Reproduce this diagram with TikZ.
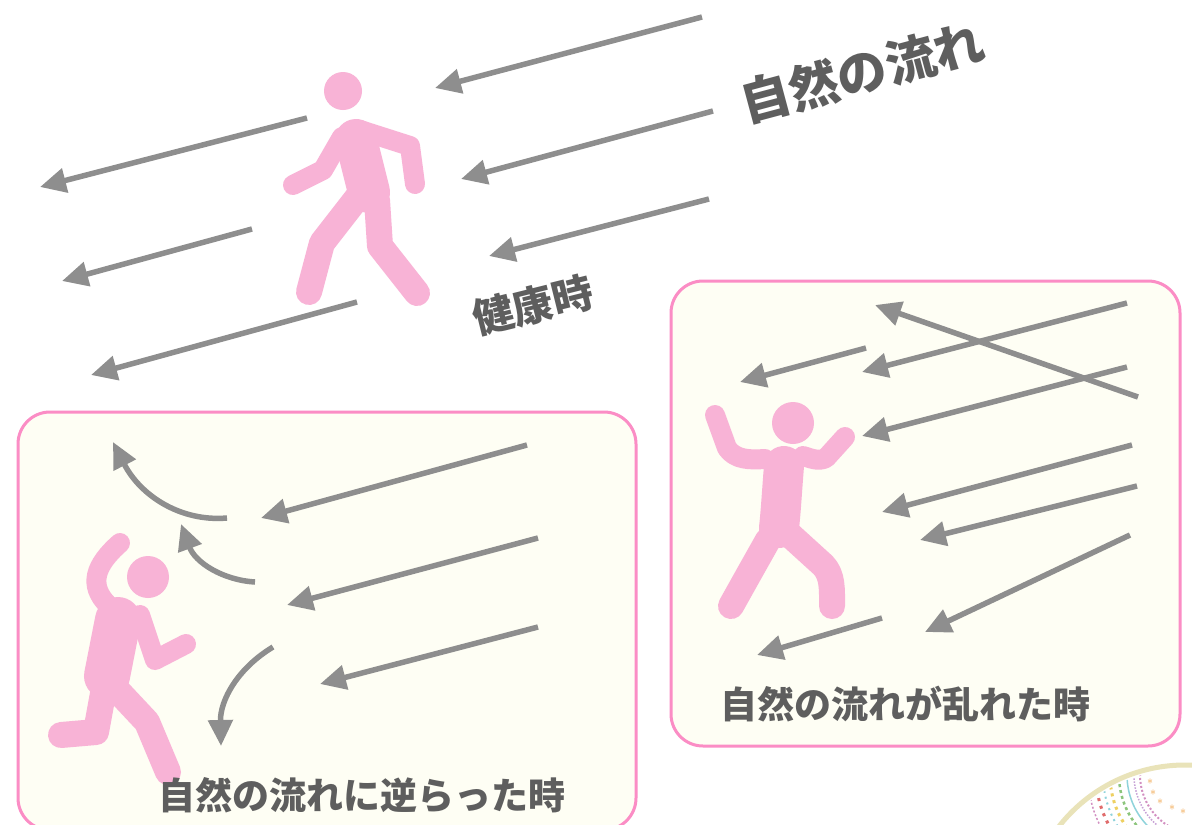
\documentclass[tikz,border=0pt]{standalone}
\usepackage{fontspec}
\newfontfamily\jp{Noto Sans CJK JP}
\usetikzlibrary{arrows.meta}
\definecolor{flowgray}{HTML}{8E8E8E}
\definecolor{figpink}{HTML}{F8B3D6}
\definecolor{framepink}{HTML}{FB8DC5}
\definecolor{paneltint}{HTML}{FEFEF4}
\definecolor{labelgray}{HTML}{5E5E5E}
\definecolor{ringbeige}{HTML}{E9E3B9}
\definecolor{o1}{HTML}{D28FC1}
\definecolor{o2}{HTML}{8FD3DB}
\definecolor{o3}{HTML}{8CC57C}
\definecolor{o4}{HTML}{EED061}
\definecolor{o5}{HTML}{E06B6B}
\definecolor{o6}{HTML}{C7A1D6}
\definecolor{o7}{HTML}{EDD2B0}
\definecolor{o8}{HTML}{F0A040}
\tikzset{
  flow/.style={draw=flowgray, line width=5.5pt,
    -{Triangle[length=26pt,width=24pt]}},
  panel/.style={draw=framepink, line width=3pt, fill=paneltint, rounded corners=32pt},
  limb/.style={draw=figpink, line width=20pt, line cap=round, line join=round},
  leg/.style={draw=figpink, line width=26pt, line cap=round, line join=round},
  trunk/.style={draw=figpink, line width=40pt, line cap=round, line join=round},
  head/.style={fill=figpink},
  label/.style={text=labelgray, font=\jp\bfseries\fontsize{37}{40}\selectfont, inner sep=0pt},
}
\begin{document}
\begin{tikzpicture}[x=1pt, y=-1pt]
\useasboundingbox (0,0) rectangle (1192,825);
\fill[white] (0,0) rectangle (1192,825);

% ---------- healthy: the natural flow ----------
\coordinate (h1s) at (702,17);  \coordinate (h1e) at (435,88);
\coordinate (h2s) at (307,118); \coordinate (h2e) at (40,187);
\coordinate (h3s) at (713,111); \coordinate (h3e) at (461,179);
\coordinate (h4s) at (252,229); \coordinate (h4e) at (62,281);
\coordinate (h5s) at (709,199); \coordinate (h5e) at (489,256);
\coordinate (h6s) at (357,302); \coordinate (h6e) at (91,375);
\foreach \i in {1,...,6} \draw[flow] (h\i s) -- (h\i e);

% walking figure
\fill[head] (343,91) circle (19);
\draw[limb] (342,137) -- (323,170) -- (293,185);
\draw[limb] (360,130) -- (410,146) -- (415,184);
\draw[leg] (357,198) -- (322,243) -- (309,292);
\draw[leg] (377,200) -- (380,246) -- (417,293);
\draw[trunk, line width=42pt] (356,140) -- (369,192);

\node[label, font=\jp\bfseries\fontsize{50}{54}\selectfont, rotate=15] (titleflow) at (862,72) {自然の流れ};
\node[label, font=\jp\bfseries\fontsize{41}{44}\selectfont, rotate=14] (healthy) at (533,305) {健康時};

% ---------- going against the flow ----------
\draw[panel] (18,412) rectangle (636,830);
\coordinate (a1s) at (527,445); \coordinate (a1e) at (261,518);
\coordinate (a2s) at (538,538); \coordinate (a2e) at (287,605);
\coordinate (a3s) at (538,627); \coordinate (a3e) at (320,684);
\foreach \i in {1,2,3} \draw[flow] (a\i s) -- (a\i e);
\coordinate (b1s) at (227,518); \coordinate (b1e) at (113,442);
\coordinate (b2s) at (255,582); \coordinate (b2e) at (181,524);
\coordinate (b3s) at (273,647); \coordinate (b3e) at (221,746);
\draw[flow] (b1s) .. controls (180,522) and (140,495) .. (b1e);
\draw[flow] (b2s) .. controls (222,580) and (195,562) .. (b2e);
\draw[flow] (b3s) .. controls (238,668) and (220,700) .. (b3e);

% fleeing figure
\fill[head] (148,577) circle (21);
\draw[limb] (108,605) .. controls (88,585) and (95,565) .. (120,543);
\draw[limb] (140,615) -- (155,660) -- (186,644);
\draw[leg] (104,688) -- (96,732) -- (61,735);
\draw[leg] (117,690) -- (147,722) -- (168,772);
\draw[trunk, line width=46pt] (118,620) -- (107,676);

\node[label] (againstlabel) at (362,795) {自然の流れに逆らった時};

% ---------- when the flow is disturbed ----------
\draw[panel] (671,281) rectangle (1180,746);
\coordinate (c1s) at (1138,397); \coordinate (c1e) at (875,305);
\coordinate (c2s) at (1127,303); \coordinate (c2e) at (862,372);
\coordinate (c3s) at (1127,367); \coordinate (c3e) at (862,436);
\coordinate (c4s) at (866,348);  \coordinate (c4e) at (740,382);
\coordinate (c5s) at (1132,445); \coordinate (c5e) at (882,512);
\coordinate (c6s) at (1137,486); \coordinate (c6e) at (920,540);
\coordinate (c7s) at (1130,535); \coordinate (c7e) at (925,632);
\coordinate (c8s) at (882,618);  \coordinate (c8e) at (757,655);
\foreach \i in {1,...,8} \draw[flow] (c\i s) -- (c\i e);

% stumbling figure
\fill[head] (793,423) circle (21);
\draw[limb] (715,415) -- (727,448) .. controls (735,460) and (750,460) .. (765,459);
\draw[limb] (845,437) -- (826,458) .. controls (818,462) and (810,458) .. (803,456);
\draw[leg] (768,540) -- (750,572) -- (731,606);
\draw[leg] (790,535) -- (823,565) .. controls (833,575) and (832,590) .. (832,606);
\draw[trunk] (784,466) .. controls (782,490) and (781,510) .. (779,528);

\node[label] (disturbedlabel) at (905,704) {自然の流れが乱れた時};

% ---------- corner ornament ----------
\begin{scope}
\clip (0,0) rectangle (1192,825);
\draw[ringbeige, line width=5pt] (1185,925) circle (160);
\begin{scope}
\clip (1185,925) circle (156);
\foreach \a in {-10,-6,...,90}
  \draw[o7, line width=0.7pt] (1200,775) ++(\a:12) -- ++(\a:34);
\draw[o1, line width=2pt, dash pattern=on 2pt off 2pt] (1200,775) ++(95:60) arc (95:180:60);
\draw[o6, line width=1.5pt, dash pattern=on 1.5pt off 1.5pt] (1200,775) ++(95:66) arc (95:180:66);
\draw[o2, line width=1.5pt] (1200,775) ++(95:73) arc (95:180:73);
\draw[o3, line width=2.5pt, dash pattern=on 3pt off 3pt] (1200,775) ++(95:81) arc (95:180:81);
\draw[o4, line width=3pt, dash pattern=on 3pt off 4pt] (1200,775) ++(95:90) arc (95:180:90);
\draw[o2, line width=2pt, dash pattern=on 2pt off 4pt] (1200,775) ++(95:97) arc (95:180:97);
\draw[o5, line width=3pt, dash pattern=on 3pt off 5pt] (1200,775) ++(95:104) arc (95:180:104);
\draw[o1, line width=1.5pt, dash pattern=on 2pt off 2pt] (1200,775) ++(95:112) arc (95:180:112);
\foreach \p in {(1150,782),(1153,793),(1160,802),(1172,808),(1183,812)}
  \node[text=o8, font=\fontsize{12}{12}\selectfont, inner sep=0pt] at \p {$\ast$};
\end{scope}
\end{scope}
\end{tikzpicture}
\end{document}
